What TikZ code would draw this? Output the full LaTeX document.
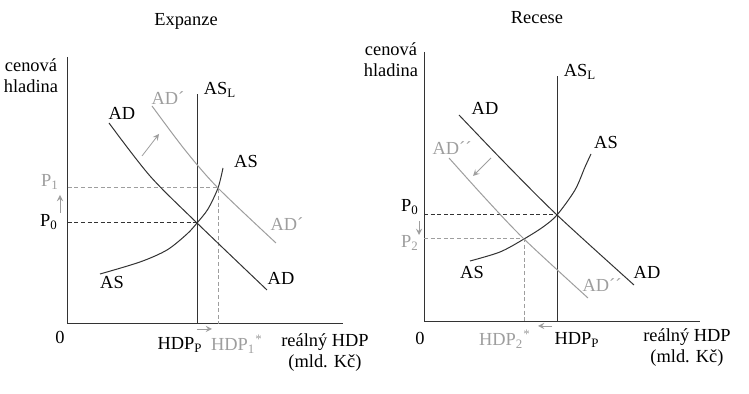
\documentclass[tikz,border=0pt]{standalone}
\usepackage{fontspec}
\setmainfont{Liberation Serif}
\colorlet{ink}{black!80}
\colorlet{shifted}{black!38}
\begin{document}
\begin{tikzpicture}[x=0.5pt,y=0.5pt,line width=0.5pt,>=stealth,font=\fontsize{9.2}{10.5}\selectfont,
  guide/.style={dash pattern=on 2pt off 1.3pt}]
\useasboundingbox (0,0) rectangle (749,394);
% --- Expanze ---
\node (titleL) at (186,373) {Expanze};
\node[align=center] (yaxL) at (31,318) {cenová\\hladina};
\draw[ink] (67.7,337)--(67.7,70)--(343,70);
\node (zeroL) at (60,57) {0};
\draw[ink] (197,70)--(197,300);
\node (aslL) at (220,304) {AS\textsubscript{L}};
\draw[guide,ink] (67.7,171)--(197,171);
\draw[guide,shifted] (67.7,206)--(218,206)--(218,70);
\draw[ink] plot[smooth] coordinates {(109,271) (150,218) (197,171) (267,104)};
\draw[ink] plot[smooth] coordinates {(100,120) (140,132) (167,144) (187,160) (197,171) (208,185) (218,206) (223,226)};
\draw[shifted] plot[smooth] coordinates {(152,288) (185,244) (218,206) (276,151)};
\node (adLa) at (122,281) {AD};
\node (adLb) at (281,116) {AD};
\node (asLa) at (246,232) {AS};
\node (asLb) at (112,111) {AS};
\node[shifted] (adpLa) at (168,296) {AD´};
\node[shifted] (adpLb) at (287,170) {AD´};
\node[shifted] (p1L) at (50,212) {P\textsubscript{1}};
\node (p0L) at (49,172) {P\textsubscript{0}};
\draw[->,shifted,line width=0.4pt] (60,181)--(60,199);
\draw[->,shifted,line width=0.4pt] (142,238)--(159,260);
\draw[->,shifted,line width=0.4pt] (197,65)--(212,65);
\node (hdpL) at (180,49) {HDP\textsubscript{P}};
\node[shifted] (hdp1) at (237,50) {HDP\textsubscript{1}\textsuperscript{*}};
\node[align=center] (xaxL) at (325,41) {reálný HDP\\(mld. Kč)};
% --- Recese ---
\node (titleR) at (537,376) {Recese};
\node[align=center] (yaxR) at (391,334) {cenová\\hladina};
\draw[ink] (424,342)--(424,72)--(700,72);
\node (zeroR) at (420,56) {0};
\draw[ink] (557,72)--(557,318);
\node (aslR) at (580,322) {AS\textsubscript{L}};
\draw[guide,ink] (424,179)--(557,179);
\draw[guide,shifted] (424,155)--(524,155)--(524,72);
\draw[ink] plot[smooth] coordinates {(459,279) (505,231) (557,179) (634,109)};
\draw[ink] plot[smooth] coordinates {(470,133) (500,142) (524,155) (543,167) (557,179) (575,204) (585,227) (591,240)};
\draw[shifted] plot[smooth] coordinates {(449,236) (485,196) (524,155) (588,96)};
\node (adRa) at (485,286) {AD};
\node (adRb) at (647,122) {AD};
\node (asRa) at (606,251) {AS};
\node (asRb) at (472,121) {AS};
\node[shifted] (adppRa) at (452,246) {AD´´};
\node[shifted] (adppRb) at (602,109) {AD´´};
\node (p0R) at (410,187) {P\textsubscript{0}};
\node[shifted] (p2R) at (410,151) {P\textsubscript{2}};
\draw[->,shifted,line width=0.4pt] (419,173)--(419,159);
\draw[->,shifted,line width=0.4pt] (491,236)--(473,218);
\draw[->,shifted,line width=0.4pt] (552,68)--(538,68);
\node[shifted] (hdp2) at (505,55) {HDP\textsubscript{2}\textsuperscript{*}};
\node (hdpR) at (577,54) {HDP\textsubscript{P}};
\node[align=center] (xaxR) at (687,46) {reálný HDP\\(mld. Kč)};
\end{tikzpicture}
\end{document}
